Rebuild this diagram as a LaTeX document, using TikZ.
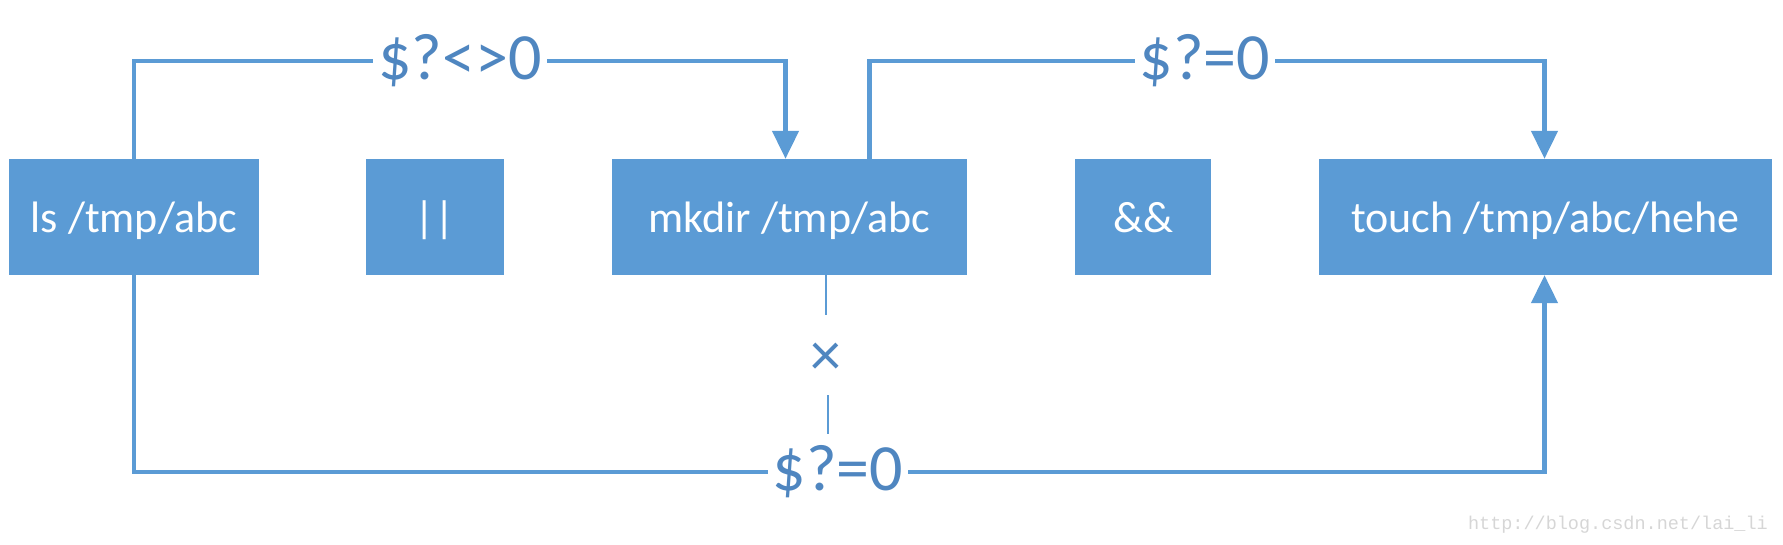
\documentclass[tikz,border=0pt]{standalone}
\usepackage{fontspec}
\setmainfont{Carlito}
\newfontfamily\wmfont{Liberation Mono}
\usetikzlibrary{arrows.meta}
\definecolor{boxblue}{HTML}{5B9BD5}
\definecolor{lineblue}{HTML}{5B9BD5}
\definecolor{labblue}{HTML}{4F86C0}
\definecolor{wmgray}{HTML}{D6D6D6}
\pgfdeclarelayer{bg}
\pgfsetlayers{bg,main}
\begin{document}
\begin{tikzpicture}[x=1pt,y=-1pt,
  cmdbox/.style={fill=boxblue,draw=none,text=white,inner sep=0pt,minimum height=116pt,
    text height=32pt,text depth=0pt,font=\fontsize{44}{48}\selectfont},
  lab/.style={fill=white,text=labblue,inner xsep=5pt,inner ysep=0pt,
    font=\fontsize{66}{70}\selectfont},
  conn/.style={draw=lineblue,line width=4.5pt},
  arr/.style={-{Triangle[width=26pt,length=28pt]}},
  thinline/.style={draw=lineblue,line width=2pt}]
\useasboundingbox (0,0) rectangle (1783,545);
\node[cmdbox,minimum width=250pt] (ls) at (134,217) {ls /tmp/abc};
\node[cmdbox,minimum width=138pt] (or) at (435,217) {||};
\node[cmdbox,minimum width=355pt] (mk) at (789.5,217) {mkdir /tmp/abc};
\node[cmdbox,minimum width=136pt] (and) at (1143,217) {\&\&};
\node[cmdbox,minimum width=453pt] (touch) at (1545.5,217) {touch /tmp/abc/hehe};
\node[lab] (l1) at (460,61) {\$?<>0};
\node[lab] (l2) at (1205,61) {\$?=0};
\node[lab] (l3) at (838,472) {\$?=0};
\node[text=labblue,inner sep=0pt,font=\fontsize{62}{66}\selectfont] (x) at (826,359) {×};
\coordinate (xb) at (828,472);
\node[text=wmgray,inner sep=0pt,font=\wmfont\fontsize{18.5}{20}\selectfont,anchor=east] (wm) at (1768,525) {http://blog.csdn.net/lai\_li};
\begin{pgfonlayer}{bg}
\draw[conn,arr] (ls.north) |- (l1.center) -| ([xshift=-4pt]mk.north);
\draw[conn,arr] ([xshift=80pt]mk.north) |- (l2.center) -| ([xshift=-1pt]touch.north);
\draw[conn,arr] (ls.south) |- (l3.center) -| ([xshift=-1pt]touch.south);
\draw[thinline,shorten >=44pt] (mk.south -| x.center) -- (x.center);
\draw[thinline,shorten <=36pt,shorten >=38pt] ([xshift=2pt]x.center) -- (xb);
\end{pgfonlayer}
\end{tikzpicture}
\end{document}
